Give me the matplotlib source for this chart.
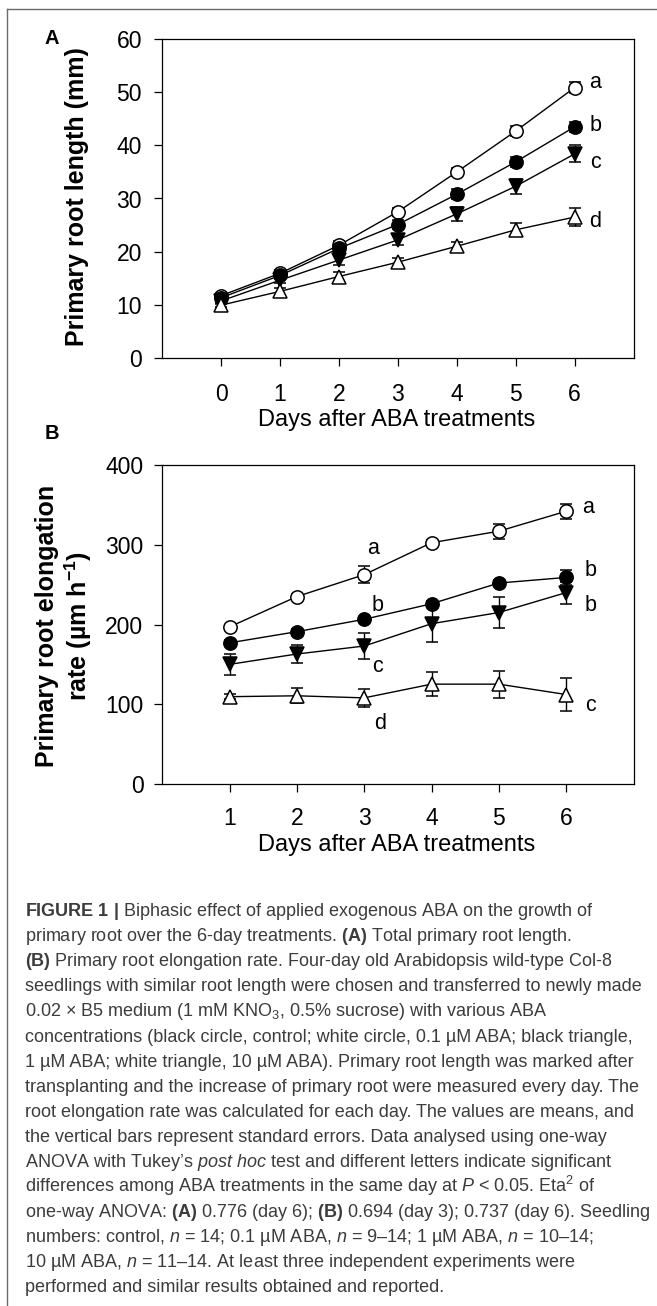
import matplotlib
matplotlib.use("Agg")
import matplotlib.pyplot as plt
from matplotlib.lines import Line2D

plt.rcParams["font.family"] = ["Liberation Sans", "DejaVu Sans"]
plt.rcParams["mathtext.fontset"] = "custom"
plt.rcParams["mathtext.rm"] = "Liberation Sans"
plt.rcParams["mathtext.it"] = "Liberation Sans:italic"
plt.rcParams["mathtext.bf"] = "Liberation Sans:bold"

# ---- Panel A: total primary root length (mm) ----
days_a = [0, 1, 2, 3, 4, 5, 6]
len_aba01 = [11.7, 15.9, 21.2, 27.5, 35.0, 42.7, 50.9]      # white circle, 0.1 uM ABA
len_aba01_se = [0.5, 0.6, 0.8, 0.8, 0.8, 1.0, 1.1]
len_ctrl = [11.3, 15.5, 20.6, 25.1, 30.8, 36.9, 43.5]       # black circle, control
len_ctrl_se = [0.5, 0.6, 0.7, 0.8, 0.9, 1.0, 1.0]
len_aba1 = [10.7, 14.6, 18.4, 22.2, 27.1, 32.3, 38.4]       # black triangle, 1 uM ABA
len_aba1_se = [0.5, 0.6, 0.9, 0.9, 1.3, 1.4, 1.6]
len_aba10 = [9.9, 12.5, 15.3, 18.0, 21.0, 24.1, 26.5]       # white triangle, 10 uM ABA
len_aba10_se = [0.4, 0.6, 0.8, 0.8, 0.8, 1.2, 1.7]
letters_a = ["a", "b", "c", "d"]
letters_a_y = [51.9, 43.8, 36.7, 25.6]

# ---- Panel B: primary root elongation rate (um/h) ----
days_b = [1, 2, 3, 4, 5, 6]
rate_aba01 = [197, 235, 262.5, 302.5, 317, 342]
rate_aba01_se = [3, 3, 10.9, 3, 9.6, 9.2]
rate_ctrl = [177, 191, 206.5, 226, 252, 259]
rate_ctrl_se = [3, 3, 3, 4, 4, 9.2]
rate_aba1 = [150, 163, 173, 201, 215, 240]
rate_aba1_se = [13.6, 11, 16, 23, 19.4, 13.8]
rate_aba10 = [109.5, 110.6, 108, 125.2, 125.2, 112.2]
rate_aba10_se = [3, 9.4, 10.9, 14.8, 16.9, 20.3]
letters_b = ["a", "b", "c", "d", "a", "b", "b", "c"]
letters_b_x = [3.13, 3.2, 3.2, 3.23, 6.33, 6.36, 6.36, 6.36]
letters_b_y = [295, 224, 147, 76, 347, 268, 224, 99]

caption_lines = [
    r"$\mathbf{FIGURE\ 1\ |}$ Biphasic effect of applied exogenous ABA on the growth of",
    r"primary root over the 6-day treatments. $\mathbf{(A)}$ Total primary root length.",
    r"$\mathbf{(B)}$ Primary root elongation rate. Four-day old Arabidopsis wild-type Col-8",
    "seedlings with similar root length were chosen and transferred to newly made",
    r"0.02 × B5 medium (1 mM KNO$_3$, 0.5% sucrose) with various ABA",
    "concentrations (black circle, control; white circle, 0.1 µM ABA; black triangle,",
    "1 µM ABA; white triangle, 10 µM ABA). Primary root length was marked after",
    "transplanting and the increase of primary root were measured every day. The",
    "root elongation rate was calculated for each day. The values are means, and",
    "the vertical bars represent standard errors. Data analysed using one-way",
    r"ANOVA with Tukey’s $\mathit{post\ hoc}$ test and different letters indicate significant",
    r"differences among ABA treatments in the same day at $\mathit{P}$ < 0.05. Eta$^2$ of",
    r"one-way ANOVA: $\mathbf{(A)}$ 0.776 (day 6); $\mathbf{(B)}$ 0.694 (day 3); 0.737 (day 6). Seedling",
    r"numbers: control, $\mathit{n}$ = 14; 0.1 µM ABA, $\mathit{n}$ = 9–14; 1 µM ABA, $\mathit{n}$ = 10–14;",
    r"10 µM ABA, $\mathit{n}$ = 11–14. At least three independent experiments were",
    "performed and similar results obtained and reported.",
]

W, H = 657, 1306
fig = plt.figure(figsize=(W / 100, H / 100), dpi=100)
fig.patch.set_facecolor("white")


def px_axes(left, top, right, bottom):
    return fig.add_axes([left / W, 1 - bottom / H, (right - left) / W, (bottom - top) / H])


series_style = [
    dict(marker="o", mfc="white"),
    dict(marker="o", mfc="black"),
    dict(marker="v", mfc="black"),
    dict(marker="^", mfc="white"),
]


def draw_series(ax, x, ys, errs):
    for y, e, st in zip(ys, errs, series_style):
        ax.errorbar(x, y, yerr=e, color="black", lw=1.0, elinewidth=1.0,
                    capsize=4.3, capthick=1.0, marker=st["marker"], ms=9.6,
                    mfc=st["mfc"], mec="black", mew=1.1, zorder=3)


def style_axes(ax, xpad, ypad):
    for sp in ax.spines.values():
        sp.set_linewidth(0.9)
    ax.tick_params(direction="out", length=6.0, width=0.9, labelsize=16.5)
    ax.tick_params(axis="x", pad=xpad)
    ax.tick_params(axis="y", pad=ypad)


# Panel A
axA = px_axes(162.2, 39.3, 633.5, 357.7)
draw_series(axA, days_a, [len_aba01, len_ctrl, len_aba1, len_aba10],
            [len_aba01_se, len_ctrl_se, len_aba1_se, len_aba10_se])
axA.set_xlim(-1, 7)
axA.set_ylim(0, 60)
axA.set_xticks(days_a)
axA.set_yticks(range(0, 61, 10))
style_axes(axA, 12.5, 8.5)
axA.set_xlabel("Days after ABA treatments", fontsize=17)
axA.xaxis.set_label_coords(0.498, -0.162)
axA.set_ylabel("Primary root length (mm)", fontsize=18, fontweight="bold", va="center")
axA.yaxis.set_label_coords(-0.180, 0.505)
for t, yv in zip(letters_a, letters_a_y):
    axA.text(6.35, yv, t, fontsize=15.5, ha="center", va="center")

# Panel B
axB = px_axes(162.2, 465, 633.5, 784)
draw_series(axB, days_b, [rate_aba01, rate_ctrl, rate_aba1, rate_aba10],
            [rate_aba01_se, rate_ctrl_se, rate_aba1_se, rate_aba10_se])
axB.set_xlim(0, 7)
axB.set_ylim(0, 400)
axB.set_xticks(days_b)
axB.set_yticks(range(0, 401, 100))
style_axes(axB, 10.5, 7.5)
axB.set_xlabel("Days after ABA treatments", fontsize=17)
axB.xaxis.set_label_coords(0.498, -0.158)
axB.set_ylabel("Primary root elongation\nrate (µm h$^{\\mathbf{-1}}$)", fontsize=18,
               fontweight="bold", va="center", linespacing=1.15)
axB.yaxis.set_label_coords(-0.207, 0.496)
for t, xv, yv in zip(letters_b, letters_b_x, letters_b_y):
    axB.text(xv, yv, t, fontsize=15.5, ha="center", va="center")

# Panel letters
fig.text(52 / W, 1 - 39 / H, "A", fontsize=14.5, fontweight="bold", ha="center", va="center")
fig.text(52 / W, 1 - 433 / H, "B", fontsize=14.5, fontweight="bold", ha="center", va="center")

# Caption
cap_color = "#3c3c3c"
for i, line in enumerate(caption_lines):
    fig.text(25 / W, 1 - (916 + 25.1 * i) / H, line, fontsize=13, color=cap_color,
             ha="left", va="baseline")

# Frame rules at top and left
fig.add_artist(Line2D([7 / W, 1], [1 - 9 / H, 1 - 9 / H], color="#6a6a6a", lw=1.0))
fig.add_artist(Line2D([7 / W, 7 / W], [0, 1 - 9 / H], color="#6a6a6a", lw=1.0))

fig.savefig("out.png", dpi=100, facecolor="white")
